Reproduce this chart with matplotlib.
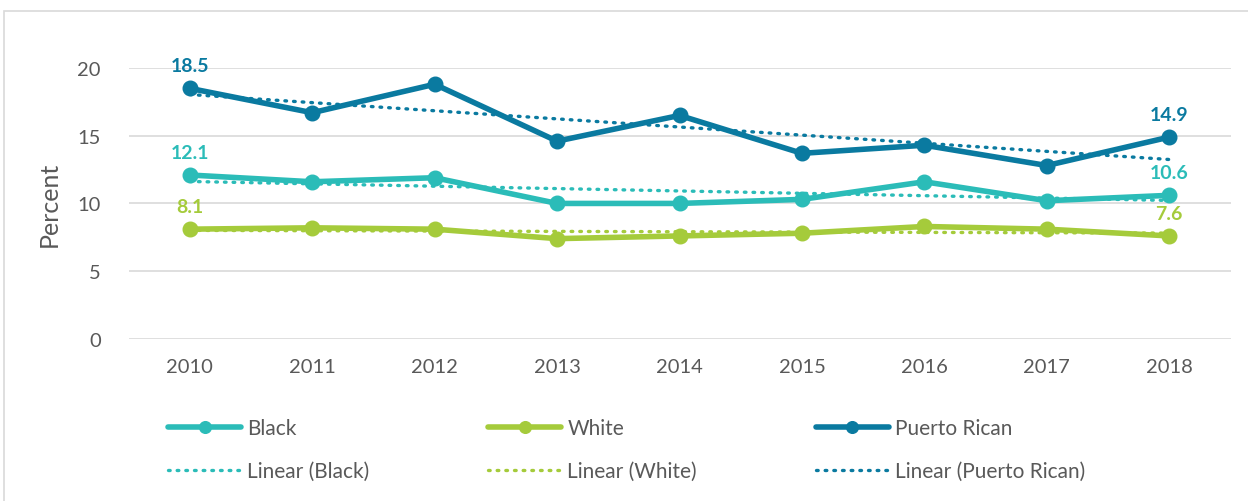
import numpy as np
import matplotlib.pyplot as plt
from matplotlib.patches import Rectangle

plt.rcParams['font.family'] = ['Lato', 'DejaVu Sans']

years = [2010, 2011, 2012, 2013, 2014, 2015, 2016, 2017, 2018]
black = [12.1, 11.6, 11.9, 10.0, 10.0, 10.3, 11.6, 10.2, 10.6]
white = [8.1, 8.2, 8.1, 7.4, 7.6, 7.8, 8.3, 8.1, 7.6]
puerto_rican = [18.5, 16.7, 18.8, 14.6, 16.5, 13.7, 14.3, 12.8, 14.9]

c_black = '#2bbcb8'
c_white = '#a5cb3b'
c_pr = '#0a7aa0'
grey = '#595959'

fig = plt.figure(figsize=(12.48, 5.02), dpi=100)
ax = fig.add_axes([0.103, 0.323, 0.883, 0.5395])

# outer frame
fig.patches.append(Rectangle((4 / 1248, -0.1), 1.1, 1.1 - 12 / 502,
                             transform=fig.transFigure, fill=False,
                             edgecolor='#d9d9d9', linewidth=1.2))

x = np.array(years)
handles = []
for vals, col, name in [(black, c_black, 'Black'),
                        (white, c_white, 'White'),
                        (puerto_rican, c_pr, 'Puerto Rican')]:
    v = np.array(vals)
    h, = ax.plot(x, v, color=col, linewidth=4, marker='o', markersize=10.5,
                 solid_capstyle='round', label=name, zorder=3)
    k, b = np.polyfit(x, v, 1)
    t, = ax.plot(x, k * x + b, color=col, linewidth=2.4, linestyle=(0, (0.5, 2.1)),
                 dash_capstyle='round', label=f'Linear ({name})', zorder=2)
    handles += [h, t]
    for i in (0, -1):
        ax.annotate(f'{v[i]:.1f}', (x[i], v[i]), xytext=(0, 10),
                    textcoords='offset points', ha='center', va='bottom',
                    color=col, fontsize=14, fontweight='bold')

ax.set_xlim(2009.5, 2018.5)
ax.set_ylim(0, 20)
ax.set_xticks(years)
ax.set_yticks([0, 5, 10, 15, 20])
ax.grid(axis='y', color='#d9d9d9', linewidth=1.2)
ax.set_axisbelow(True)
for s in ax.spines.values():
    s.set_visible(False)
ax.tick_params(length=0, labelsize=14.5, labelcolor=grey)
ax.tick_params(axis='x', pad=14)
ax.tick_params(axis='y', pad=20)
ax.set_ylabel('Percent', fontsize=18, color=grey, labelpad=12)

fig.legend(handles=handles, ncol=3, loc='upper left',
           bbox_to_anchor=(0.128, 0.182), frameon=False, fontsize=15,
           labelcolor=grey, handlelength=3.5, handletextpad=0.3,
           columnspacing=5.7, labelspacing=1.1, borderaxespad=0,
           markerscale=0.8)

fig.savefig('out.png', dpi=100)
